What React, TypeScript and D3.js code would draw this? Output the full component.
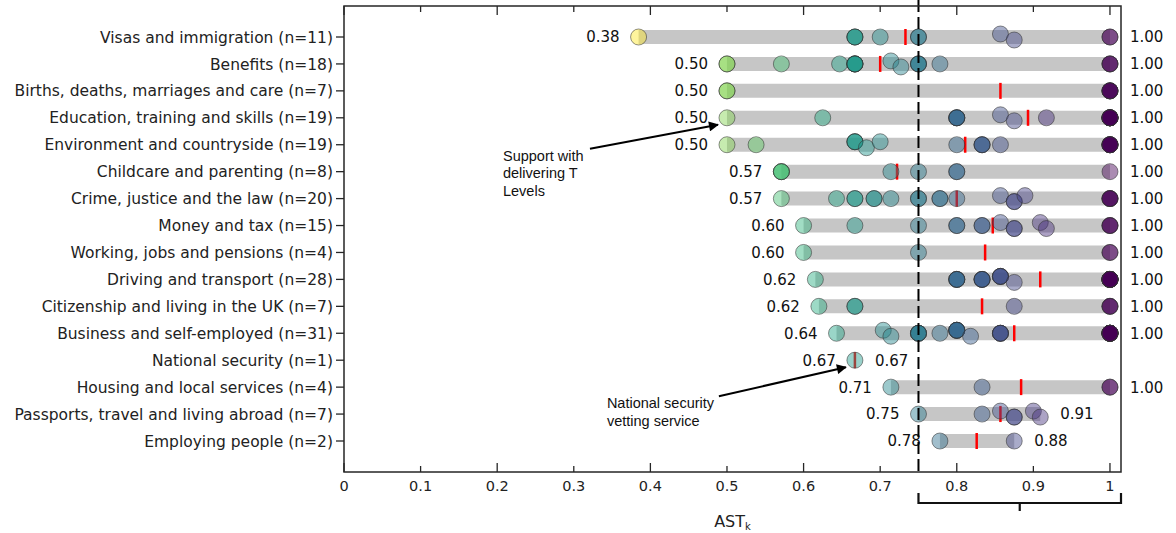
import React, { useEffect, useRef } from 'react';
import * as d3 from 'd3';

// service categories, top to bottom
const categories = [
  'Visas and immigration',
  'Benefits',
  'Births, deaths, marriages and care',
  'Education, training and skills',
  'Environment and countryside',
  'Childcare and parenting',
  'Crime, justice and the law',
  'Money and tax',
  'Working, jobs and pensions',
  'Driving and transport',
  'Citizenship and living in the UK',
  'Business and self-employed',
  'National security',
  'Housing and local services',
  'Passports, travel and living abroad',
  'Employing people',
];

// AST_k per service in each category
const serviceScores: number[][] = [
  [0.3846, 0.667, 0.667, 0.667, 0.7, 0.75, 0.75, 0.857, 0.875, 1, 1],
  [0.5, 0.5, 0.571, 0.647, 0.667, 0.667, 0.667, 0.667, 0.667, 0.714, 0.727, 0.75, 0.75, 0.75, 0.778, 1, 1, 1],
  [0.5, 0.5, 1, 1, 1, 1, 1],
  [0.5, 0.625, 0.8, 0.8, 0.8, 0.8, 0.857, 0.875, 0.917, 1, 1, 1, 1, 1, 1, 1, 1, 1, 1],
  [0.5, 0.538, 0.667, 0.667, 0.667, 0.682, 0.7, 0.8, 0.833, 0.833, 0.833, 0.857, 1, 1, 1, 1, 1, 1, 1],
  [0.571, 0.571, 0.571, 0.714, 0.75, 0.8, 0.8, 1],
  [0.571, 0.643, 0.667, 0.667, 0.692, 0.692, 0.714, 0.75, 0.75, 0.778, 0.778, 0.8, 0.857, 0.875, 0.875, 0.889, 1, 1, 1, 1],
  [0.6, 0.667, 0.75, 0.8, 0.8, 0.833, 0.833, 0.857, 0.875, 0.875, 0.909, 0.917, 1, 1, 1],
  [0.6, 0.75, 1, 1],
  [0.6154, 0.8, 0.8, 0.8, 0.8, 0.833, 0.833, 0.833, 0.833, 0.857, 0.857, 0.857, 0.857, 0.875, 1, 1, 1, 1, 1, 1, 1, 1, 1, 1, 1, 1, 1, 1],
  [0.62, 0.667, 0.667, 0.875, 1, 1, 1],
  [0.643, 0.704, 0.714, 0.75, 0.75, 0.75, 0.75, 0.778, 0.8, 0.8, 0.8, 0.8, 0.8, 0.818, 0.857, 0.857, 0.857, 0.857, 1, 1, 1, 1, 1, 1, 1, 1, 1, 1, 1, 1, 1],
  [0.667],
  [0.714, 0.833, 1, 1],
  [0.75, 0.833, 0.857, 0.875, 0.875, 0.9, 0.909],
  [0.778, 0.875],
];

// red marker (category mean)
const meanScores = [0.733, 0.7, 0.857, 0.893, 0.811, 0.722, 0.8, 0.847, 0.837, 0.909, 0.833, 0.875, 0.667, 0.884, 0.857, 0.826];

const xTicks = [0, 0.1, 0.2, 0.3, 0.4, 0.5, 0.6, 0.7, 0.8, 0.9, 1];
const majorTicks = [0, 0.2, 0.4, 0.6, 0.8, 1];
const threshold = 0.75;

const annotations = [
  { lines: ['Support with', 'delivering T', 'Levels'], row: 3, value: 0.5, dx: -215, dy: 31, armX: 87 },
  { lines: ['National security', 'vetting service'], row: 12, value: 0.667, dx: -239, dy: 36, armX: 112 },
];

const W = 1176;
const H = 533;

const App = () => {
  const svgRef = useRef<SVGSVGElement>(null);

  useEffect(() => {
    const svg = d3.select(svgRef.current);
    svg.selectAll('*').remove();

    const left = 344, right = 1121, top = 6, bottom = 472;
    const x = d3.scaleLinear().domain([0, 1.0144]).range([left, right]);
    const y = d3.scalePoint<number>().domain(d3.range(categories.length)).range([37, 441]);

    const allVals = serviceScores.flat();
    const color = d3.scaleSequential((t: number) => d3.interpolateViridis(1 - t))
      .domain([d3.min(allVals) as number, 1]);

    const font = 'DejaVu Sans, sans-serif';

    // grey range bars
    svg.append('g')
      .selectAll('line')
      .data(serviceScores)
      .join('line')
      .attr('x1', d => x(d3.min(d) as number))
      .attr('x2', d => x(d3.max(d) as number))
      .attr('y1', (_, i) => y(i) as number)
      .attr('y2', (_, i) => y(i) as number)
      .attr('stroke', '#c6c6c6')
      .attr('stroke-width', 14);

    // mean markers
    svg.append('g')
      .selectAll('line')
      .data(meanScores)
      .join('line')
      .attr('x1', d => x(d))
      .attr('x2', d => x(d))
      .attr('y1', (_, i) => (y(i) as number) - 8)
      .attr('y2', (_, i) => (y(i) as number) + 8)
      .attr('stroke', '#ff0000')
      .attr('stroke-width', 2.5);

    // points, nudged up/down a bit when neighbours nearly touch
    const pts: { v: number; row: number; dy: number }[] = [];
    serviceScores.forEach((vals, row) => {
      const distinct = Array.from(new Set(vals)).sort((a, b) => a - b);
      const off = new Map<number, number>();
      distinct.forEach((v, j) => {
        if (j > 0 && x(v) - x(distinct[j - 1]) < 14) {
          if (!off.has(distinct[j - 1])) off.set(distinct[j - 1], -3);
          off.set(v, off.get(distinct[j - 1]) === -3 ? 3 : -3);
        }
      });
      vals.forEach(v => pts.push({ v, row, dy: off.get(v) || 0 }));
    });

    svg.append('g')
      .selectAll('circle')
      .data(pts)
      .join('circle')
      .attr('cx', d => x(d.v))
      .attr('cy', d => (y(d.row) as number) + d.dy)
      .attr('r', 8)
      .attr('fill', d => color(d.v))
      .attr('fill-opacity', 0.45)
      .attr('stroke', '#333')
      .attr('stroke-opacity', 0.55)
      .attr('stroke-width', 1);

    // min / max value labels
    const fmt = (v: number) => v.toFixed(2);
    const labels = svg.append('g').attr('font-family', font).attr('font-size', 15).attr('fill', '#111');
    serviceScores.forEach((vals, i) => {
      const lo = d3.min(vals) as number;
      const hi = d3.max(vals) as number;
      labels.append('text')
        .attr('x', x(lo) - 19).attr('y', y(i) as number).attr('dy', '0.36em')
        .attr('text-anchor', 'end').text(fmt(lo));
      labels.append('text')
        .attr('x', x(hi) + 20).attr('y', y(i) as number).attr('dy', '0.36em')
        .text(fmt(hi));
    });

    // threshold line
    svg.append('line')
      .attr('x1', x(threshold)).attr('x2', x(threshold))
      .attr('y1', 0).attr('y2', bottom)
      .attr('stroke', '#000').attr('stroke-width', 2)
      .attr('stroke-dasharray', '12,5');

    // frame
    svg.append('rect')
      .attr('x', left).attr('y', top)
      .attr('width', right - left).attr('height', bottom - top)
      .attr('fill', 'none').attr('stroke', '#262626').attr('stroke-width', 1.5);

    // x ticks, inward top and bottom
    const tickLen = (t: number) => (majorTicks.includes(t) ? 9 : 6);
    const ticks = svg.append('g').attr('stroke', '#262626').attr('stroke-width', 1.3);
    xTicks.forEach(t => {
      ticks.append('line').attr('x1', x(t)).attr('x2', x(t)).attr('y1', bottom).attr('y2', bottom - tickLen(t));
      ticks.append('line').attr('x1', x(t)).attr('x2', x(t)).attr('y1', top).attr('y2', top + tickLen(t));
    });
    svg.append('g')
      .attr('font-family', font).attr('font-size', 14.5).attr('fill', '#222').attr('text-anchor', 'middle')
      .selectAll('text')
      .data(xTicks)
      .join('text')
      .attr('x', d => x(d))
      .attr('y', 491)
      .text(d => d3.format('~g')(d));

    // y ticks and category labels
    categories.forEach((c, i) => {
      ticks.append('line').attr('x1', left - 8).attr('x2', left).attr('y1', y(i) as number).attr('y2', y(i) as number);
    });
    svg.append('g')
      .attr('font-family', font).attr('font-size', 15.5).attr('fill', '#222').attr('text-anchor', 'end')
      .selectAll('text')
      .data(categories)
      .join('text')
      .attr('x', left - 11)
      .attr('y', (_, i) => y(i) as number)
      .attr('dy', '0.36em')
      .text((d, i) => `${d} (n=${serviceScores[i].length})`);

    // axis title
    const title = svg.append('text')
      .attr('x', (left + right) / 2).attr('y', 527)
      .attr('font-family', font).attr('font-size', 16).attr('fill', '#222')
      .attr('text-anchor', 'middle');
    title.append('tspan').text('AST');
    title.append('tspan').attr('font-size', 10).attr('dy', 3).text('k');

    // bracket under the threshold range
    const bx0 = x(threshold), bx1 = right, by = 503;
    svg.append('path')
      .attr('d', `M${bx0},493V${by}H${bx1}V493M${(bx0 + bx1) / 2},${by}V511`)
      .attr('fill', 'none').attr('stroke', '#111').attr('stroke-width', 2.2);

    // annotations
    const defs = svg.append('defs');
    defs.append('marker')
      .attr('id', 'arrowhead')
      .attr('viewBox', '0 0 10 10')
      .attr('refX', 9).attr('refY', 5)
      .attr('markerWidth', 5.5).attr('markerHeight', 5)
      .attr('orient', 'auto')
      .append('path').attr('d', 'M0,0L10,5L0,10Z').attr('fill', '#000');

    annotations.forEach(a => {
      const tx = x(a.value) - 9;
      const ty = (y(a.row) as number) + 7;
      const sx = tx + a.dx;
      const sy = ty + a.dy;
      const g = svg.append('g').attr('font-family', 'Liberation Sans, Arial, sans-serif').attr('font-size', 14.5).attr('fill', '#111');
      a.lines.forEach((l, k) => {
        g.append('text').attr('x', sx).attr('y', sy + 5 + k * 17.5).text(l);
      });
      svg.append('line')
        .attr('x1', sx + a.armX).attr('y1', sy - 7)
        .attr('x2', tx).attr('y2', ty)
        .attr('stroke', '#000').attr('stroke-width', 2)
        .attr('marker-end', 'url(#arrowhead)');
    });
  }, []);

  return (
    <svg ref={svgRef} width={W} height={H} style={{ position: 'absolute', left: 0, top: 0, background: '#fff' }}></svg>
  );
};

export default App;
